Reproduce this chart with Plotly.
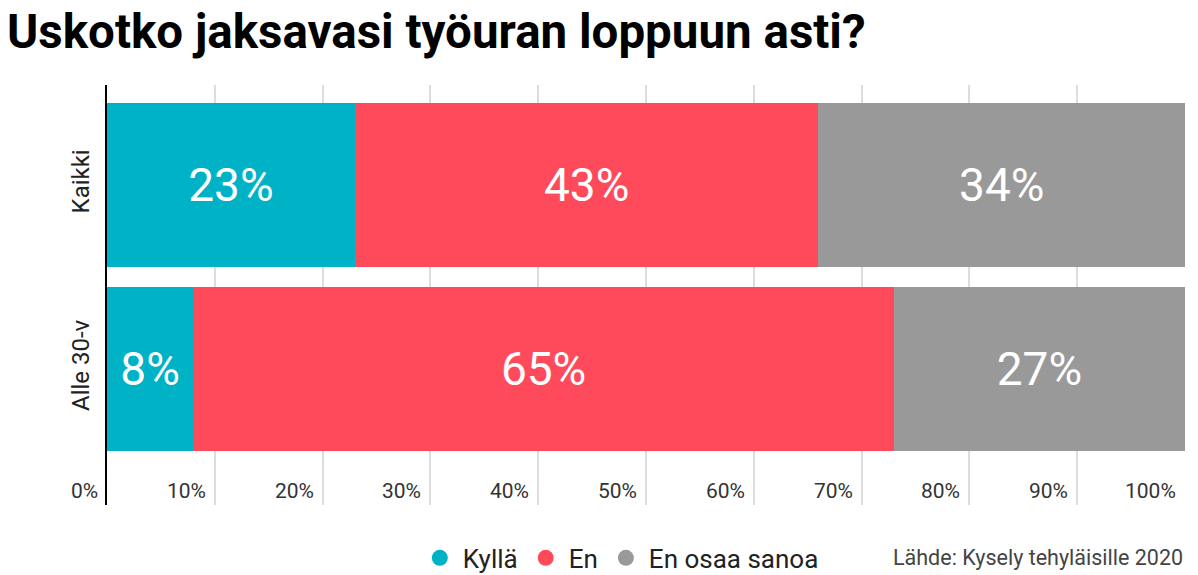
import plotly.graph_objects as go

# data
categories = ["Kaikki", "Alle 30-v"]
series_names = ["Kyllä", "En", "En osaa sanoa"]
kylla = [23, 8]
en = [43, 65]
eos = [34, 27]
colors = ["#00b2c6", "#ff4a5c", "#999999"]
x_ticks = [0, 10, 20, 30, 40, 50, 60, 70, 80, 90, 100]

title_text = "Uskotko jaksavasi työuran loppuun asti?"
source_text = "Lähde: Kysely tehyläisille 2020"

FONT = "Roboto"

fig = go.Figure()

for name, vals, col in zip(series_names, [kylla, en, eos], colors):
    fig.add_trace(go.Bar(
        y=categories, x=vals, name=name, orientation="h",
        marker=dict(color=col, line=dict(width=0)),
        texttemplate="%{x}%", textposition="inside", insidetextanchor="middle",
        textfont=dict(family=FONT, size=46, color="white"),
        constraintext="none", showlegend=False, hoverinfo="skip",
    ))
    # legend entry with round marker
    fig.add_trace(go.Scatter(
        x=[None], y=[None], mode="markers", name=name,
        marker=dict(color=col, size=16, symbol="circle"),
    ))

# x tick labels sit left of their grid line, inside the plot
for t in x_ticks:
    fig.add_annotation(
        x=t, xref="x", y=0, yref="paper", yanchor="bottom", yshift=0,
        xanchor="right", xshift=-7, text=f"{t}%", showarrow=False,
        font=dict(family=FONT, size=21, color="#333333"),
    )

fig.add_annotation(
    x=1, xref="paper", y=-0.126, yref="paper", xanchor="right", yanchor="middle",
    text=source_text, showarrow=False,
    font=dict(family=FONT, size=21.5, color="#444444"),
)

fig.update_layout(
    width=1198, height=575,
    margin=dict(l=107, r=13, t=85, b=70, autoexpand=False),
    paper_bgcolor="white", plot_bgcolor="white",
    barmode="stack", bargap=0.11,
    title=dict(text=f"<b>{title_text}</b>", x=7 / 1198, xanchor="left",
               y=1 - 31 / 575, yanchor="middle", yref="container",
               pad=dict(l=0, r=0, t=0, b=0),
               font=dict(family=FONT, size=47.5, color="black")),
    legend=dict(orientation="h", x=0.2874, xanchor="left", y=-0.126, yanchor="middle",
                traceorder="normal", itemwidth=36,
                font=dict(family=FONT, size=26, color="#222222"),
                itemclick=False, itemdoubleclick=False),
    font=dict(family=FONT),
)

fig.update_xaxes(range=[0, 100], tickvals=x_ticks, showticklabels=False,
                 showgrid=True, gridcolor="#dddddd", gridwidth=1.5,
                 zeroline=False, showline=False, fixedrange=True, automargin=False)
fig.update_yaxes(categoryorder="array", categoryarray=categories,
                 range=[1.739, -0.543], tickangle=-90, ticks="",
                 showline=True, linecolor="black", linewidth=2,
                 tickfont=dict(family=FONT, size=24, color="#222222"),
                 ticklabelstandoff=6,
                 showgrid=False, zeroline=False, fixedrange=True, automargin=False)

fig.write_html("out.html", config={"displayModeBar": False},
               post_script="document.body.style.margin='0';")
